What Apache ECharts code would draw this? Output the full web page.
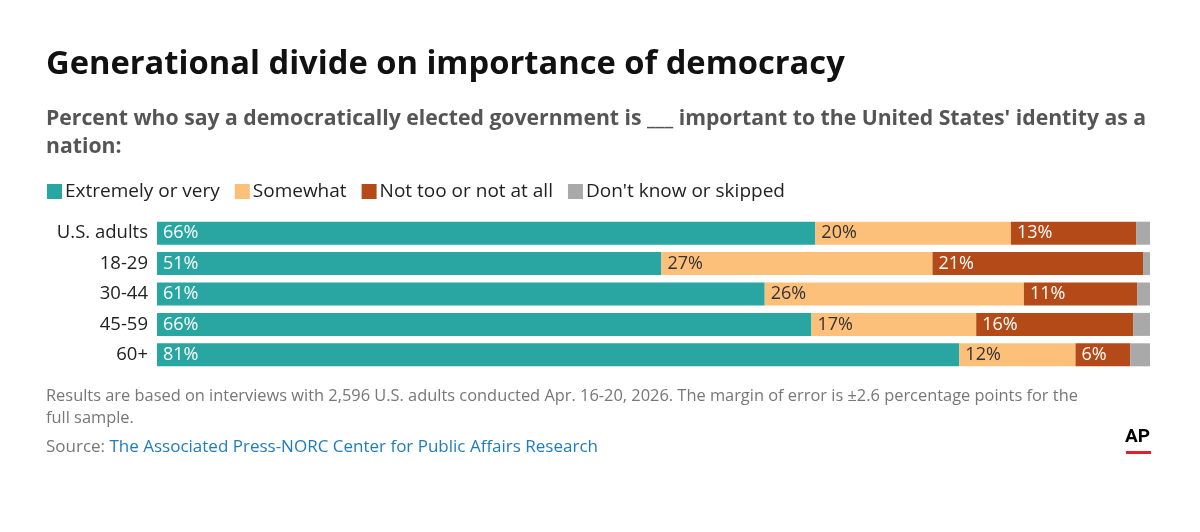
<!DOCTYPE html>
<html>
<head>
<meta charset="utf-8">
<script src="https://cdn.jsdelivr.net/npm/echarts@6/dist/echarts.min.js"></script>
<style>
  html, body { margin: 0; padding: 0; background: #fff; }
  #main { width: 1200px; height: 532px; }
</style>
</head>
<body>
<div id="main"></div>
<script>
// data (percent)
var groups = ['U.S. adults', '18-29', '30-44', '45-59', '60+'];
var seriesNames = ['Extremely or very', 'Somewhat', 'Not too or not at all', "Don't know or skipped"];
var extremely = [66.3, 50.8, 61.2, 65.9, 80.8];
var somewhat = [19.7, 27.3, 26.1, 16.6, 11.7];
var notTooNotAtAll = [12.6, 21.2, 11.4, 15.8, 5.5];
var dontKnow = [1.4, 0.7, 1.3, 1.7, 2.0];

var colors = ['#29a6a1', '#fdc07b', '#b44a17', '#a9a9a9'];
var labelColors = ['#ffffff', '#333333', '#ffffff', '#333333'];
var font = '"Open Sans", Roboto, sans-serif';

var myChart = echarts.init(document.getElementById('main'));
window.onresize = myChart.resize;

var values = [extremely, somewhat, notTooNotAtAll, dontKnow];
var series = [];
for (var i = 0; i < values.length; i++) {
    series.push({
        name: seriesNames[i],
        type: 'bar',
        stack: 'total',
        barWidth: 23,
        data: values[i],
        itemStyle: { color: colors[i] },
        label: {
            show: i < 3,
            position: 'insideLeft',
            distance: 6,
            color: labelColors[i],
            fontFamily: font,
            fontSize: 18,
            formatter: function (p) { return Math.round(p.value) + '%'; }
        },
        emphasis: { disabled: true },
        animation: false
    });
}

option = {
    backgroundColor: '#fff',
    title: [
        {
            text: 'Generational divide on importance of democracy',
            left: 46, top: 48, padding: 0,
            textStyle: { fontFamily: font, fontSize: 32.7, fontWeight: 'bold', color: '#111' }
        },
        {
            text: "Percent who say a democratically elected government is ___ important to the United States' identity as a\nnation:",
            left: 46, top: 105, padding: 0,
            textStyle: { fontFamily: font, fontSize: 21.2, fontWeight: 'bold', color: '#555', lineHeight: 28 }
        },
        {
            text: 'Results are based on interviews with 2,596 U.S. adults conducted Apr. 16-20, 2026. The margin of error is \u00b12.6 percentage points for the\nfull sample.',
            left: 46, top: 385, padding: 0,
            textStyle: { fontFamily: font, fontSize: 16.4, fontWeight: 'normal', color: '#777', lineHeight: 22 }
        },
        {
            text: '{s|Source: }{l|The Associated Press-NORC Center for Public Affairs Research}',
            left: 46, top: 439, padding: 0,
            textStyle: {
                fontFamily: font, fontSize: 17, fontWeight: 'normal',
                rich: {
                    s: { fontFamily: font, fontSize: 17, color: '#777' },
                    l: { fontFamily: font, fontSize: 17, color: '#1d7cc0' }
                }
            }
        }
    ],
    legend: {
        left: 47, top: 182, padding: 0,
        itemWidth: 15, itemHeight: 15, itemGap: 15,
        icon: 'rect',
        selectedMode: false,
        textStyle: { fontFamily: font, fontSize: 19, color: '#222', padding: [0, 0, 0, -2] },
        data: seriesNames
    },
    grid: { left: 157, right: 50, top: 218, bottom: 162 },
    xAxis: {
        type: 'value', min: 0, max: 100,
        show: false
    },
    yAxis: {
        type: 'category', data: groups, inverse: true,
        axisLine: { show: false }, axisTick: { show: false },
        axisLabel: { fontFamily: font, fontSize: 18.5, color: '#222', margin: 9 }
    },
    graphic: [
        {
            type: 'text', left: 1125, top: 428,
            style: { text: 'AP', fontFamily: 'Roboto, sans-serif', fontSize: 19, fontWeight: 'bold', fill: '#000' }
        },
        {
            type: 'rect', left: 1126, top: 451,
            shape: { width: 25, height: 3 },
            style: { fill: '#e0202e' }
        }
    ],
    series: series
};

myChart.setOption(option);
</script>
</body>
</html>
